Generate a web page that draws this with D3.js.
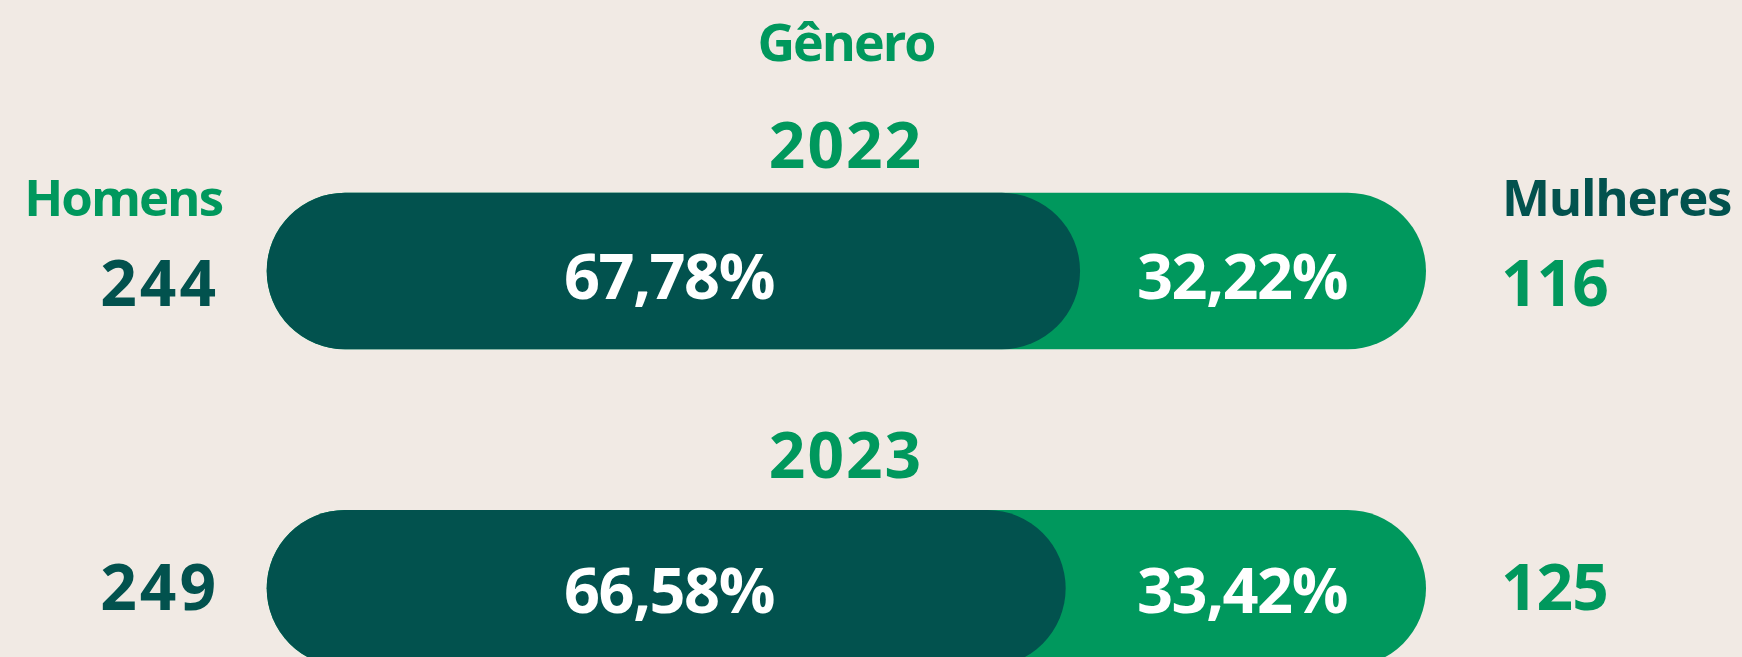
<!DOCTYPE html>
<meta charset="utf-8">
<style>
  body { margin: 0; background: #f1eae4; overflow: hidden; }
  svg { display: block; }
  text { font-family: "Open Sans", sans-serif; font-weight: 700; }
</style>
<svg width="1742" height="657"></svg>
<script src="https://d3js.org/d3.v7.min.js"></script>
<script>
  // data
  var years = ["2022", "2023"];
  var homens = [244, 249];
  var mulheres = [116, 125];
  var pctHomens = [67.78, 66.58];
  var pctMulheres = [32.22, 33.42];

  var dark = "#02524e",
    green = "#00985d";

  var svg = d3.select("svg"),
    width = +svg.attr("width"),
    height = +svg.attr("height");

  svg.append("rect").attr("width", width).attr("height", height).attr("fill", "#f1eae4");

  var barLeft = 266.7,
    barRight = 1426,
    barH = 156.6;

  // percentage -> x (end of the dark pill)
  var x = d3.scaleLinear().domain([0, 100]).range([barLeft, barLeft + 1200]);

  // row tops
  var y = d3.scalePoint().domain(years).range([192.7, 510]);

  var fmt = function(v) {
    return d3.format(".2f")(v).replace(".", ",") + "%";
  };

  svg.append("text")
    .attr("x", 846).attr("y", 60.5)
    .attr("text-anchor", "middle")
    .attr("fill", green)
    .style("font-size", "52px")
    .style("letter-spacing", "-2px")
    .text("Gênero");

  svg.append("text")
    .attr("x", 222).attr("y", 215.7)
    .attr("text-anchor", "end")
    .attr("fill", green)
    .style("font-size", "51px")
    .style("letter-spacing", "-2px")
    .text("Homens");

  svg.append("text")
    .attr("x", 1502).attr("y", 215.7)
    .attr("fill", dark)
    .style("font-size", "51px")
    .style("letter-spacing", "-1.3px")
    .text("Mulheres");

  var rows = years.map(function(yr, i) {
    return {
      year: yr,
      h: homens[i],
      m: mulheres[i],
      ph: pctHomens[i],
      pm: pctMulheres[i],
      i: i
    };
  });

  // small per-row nudges of the count / percentage baselines
  var numOff = [113, 100];
  var pctOff = [106, 103];

  var g = svg.selectAll("g.row")
    .data(rows)
    .enter().append("g")
    .attr("class", "row")
    .attr("transform", function(d) { return "translate(0," + y(d.year) + ")"; });

  g.append("text")
    .attr("x", 846).attr("y", function(d) { return d.i === 0 ? -25 : -32; })
    .attr("text-anchor", "middle")
    .attr("fill", green)
    .style("font-size", "64px")
    .style("letter-spacing", "2px")
    .text(function(d) { return d.year; });

  g.append("rect")
    .attr("x", barLeft)
    .attr("width", barRight - barLeft)
    .attr("height", barH)
    .attr("rx", barH / 2)
    .attr("fill", green);

  g.append("rect")
    .attr("x", barLeft)
    .attr("width", function(d) { return x(d.ph) - barLeft; })
    .attr("height", barH)
    .attr("rx", barH / 2)
    .attr("fill", dark);

  g.append("text")
    .attr("x", 669)
    .attr("y", function(d) { return pctOff[d.i]; })
    .attr("text-anchor", "middle")
    .attr("fill", "#fff")
    .style("font-size", "63px")
    .style("letter-spacing", "-1.5px")
    .text(function(d) { return fmt(d.ph); });

  g.append("text")
    .attr("x", 1242)
    .attr("y", function(d) { return pctOff[d.i]; })
    .attr("text-anchor", "middle")
    .attr("fill", "#fff")
    .style("font-size", "63px")
    .style("letter-spacing", "-1.5px")
    .text(function(d) { return fmt(d.pm); });

  g.append("text")
    .attr("x", 219)
    .attr("y", function(d) { return numOff[d.i]; })
    .attr("text-anchor", "end")
    .attr("fill", dark)
    .style("font-size", "64px")
    .style("letter-spacing", "3px")
    .text(function(d) { return d.h; });

  g.append("text")
    .attr("x", 1501)
    .attr("y", function(d) { return numOff[d.i]; })
    .attr("fill", green)
    .style("font-size", "64px")
    .style("letter-spacing", "-1px")
    .text(function(d) { return d.m; });
</script>
